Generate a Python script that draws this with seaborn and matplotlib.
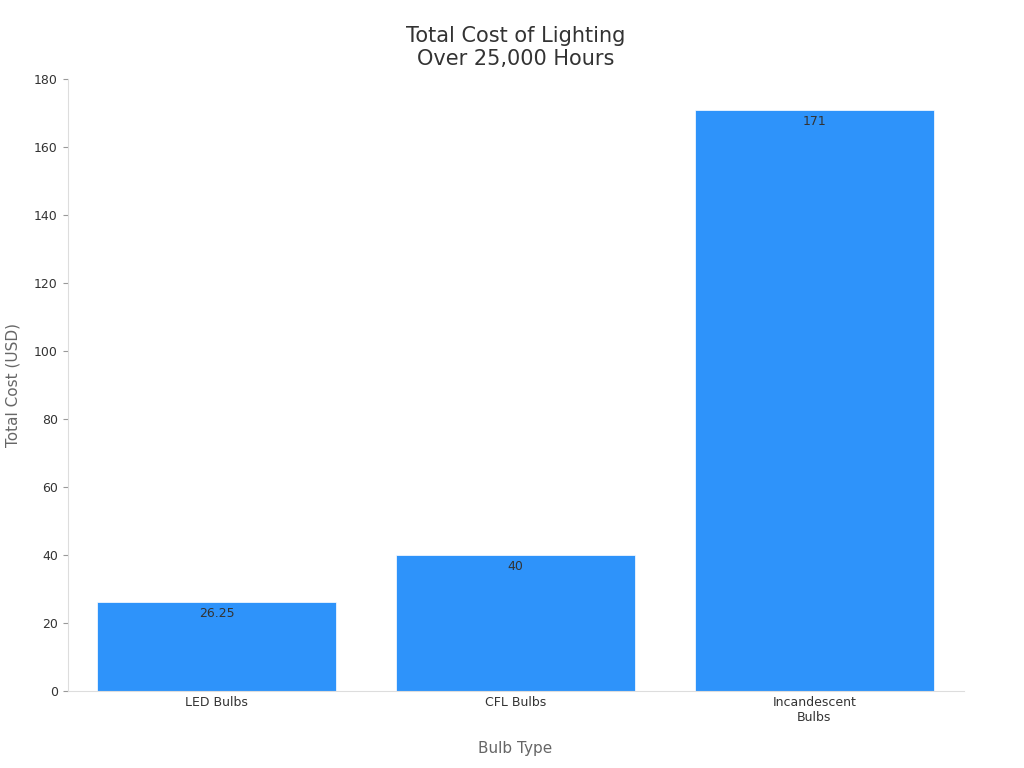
import matplotlib
matplotlib.use("Agg")
import matplotlib.pyplot as plt
import seaborn as sns
import pandas as pd

categories = ["LED Bulbs", "CFL Bulbs", "Incandescent\nBulbs"]
values = [26.25, 40, 171]
labels = ["26.25", "40", "171"]

df = pd.DataFrame({"cat": categories, "val": values})
fig, ax = plt.subplots(figsize=(10.24, 7.68), dpi=100)
fig.subplots_adjust(left=0.066, right=0.941, top=0.897, bottom=0.1)
sns.barplot(data=df, x="cat", y="val", color="#2E93FA", saturation=1, width=0.8, ax=ax,
            edgecolor="white", linewidth=0.5)
for i, (v, l) in enumerate(zip(values, labels)):
    ax.text(i, v - 1.5, l, ha="center", va="top", fontsize=9, color="#333333")
ax.set_ylim(0, 180)
ax.set_yticks(range(0, 181, 20))
ax.set_title("Total Cost of Lighting\nOver 25,000 Hours", fontsize=15, color="#333333", pad=10)
ax.set_xlabel("Bulb Type", fontsize=11, color="#666666", labelpad=12)
ax.set_ylabel("Total Cost (USD)", fontsize=11, color="#666666", labelpad=10)
ax.tick_params(labelsize=9, colors="#333333")
ax.tick_params(axis="x", length=0)
ax.tick_params(axis="y", color="#999999")
for s in ["top", "right"]:
    ax.spines[s].set_visible(False)
ax.spines["left"].set_color("#dddddd")
ax.spines["bottom"].set_color("#dddddd")
fig.savefig("out.png")
